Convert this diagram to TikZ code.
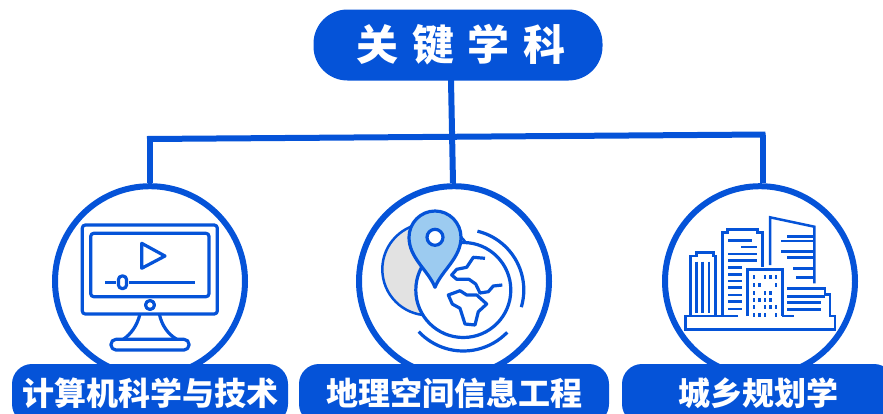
\documentclass[tikz,border=0pt]{standalone}
\usepackage{fontspec}
\usepackage{xcolor}
\usepackage{tikz}
\usetikzlibrary{positioning}
\newfontfamily\cjk{Noto Sans CJK SC}
\definecolor{keyblue}{HTML}{0553D8}
\definecolor{pinblue}{HTML}{9CCBF0}
\definecolor{shadegray}{HTML}{E2E2E2}

\begin{document}
\begin{tikzpicture}[
    x=1pt,
    y=-1pt,
    auto,
    font=\cjk\bfseries,
    title/.style={
		rectangle,
		rounded corners=34pt,
		fill=keyblue,
		text=white,
		inner sep=0pt,
		minimum width=289pt,
		minimum height=71pt,
		font=\cjk\bfseries\fontsize{42}{42}\selectfont
	},
	disc/.style={
		circle,
		draw=keyblue,
		line width=6pt,
		fill=white,
		inner sep=0pt,
		minimum size=190pt
	},
	tag/.style={
		rectangle,
		rounded corners=20pt,
		fill=keyblue,
		text=white,
		inner sep=0pt,
		minimum height=60pt,
		text height=27pt,
		text depth=5pt,
		font=\cjk\bfseries\fontsize{32}{32}\selectfont
	},
	wire/.style={
		draw=keyblue,
		line width=6pt
	},
	icon/.style={
		draw=keyblue,
		line width=3.2pt,
		line join=round
	},
	fine/.style={
		draw=keyblue,
		line width=2.5pt
	}
  ]
  \useasboundingbox (0,0) rectangle (883,413);

    % circles first, the tags lie over them
  \node [title] (key) at (458,45) {\hspace{6pt}\addfontfeature{LetterSpace=32}关键学科};
  \node [disc, below=140.5pt of key.south, xshift=-308pt, anchor=center, yshift=-60pt] (disc1) {};
  \node [disc, right=304pt of disc1.center, anchor=center] (disc2) {};
  \node [disc, right=306pt of disc2.center, anchor=center] (disc3) {};

  \node [tag, minimum width=276pt] (tag1) at (disc1 |- 0,394) {计算机科学与技术};
  \node [tag, minimum width=310pt] (tag2) at (disc2 |- 0,394) {地理空间信息工程};
  \node [tag, minimum width=272pt] (tag3) at (758,394) {城乡规划学};

    % connectors
  \coordinate (busl) at (150,139);
  \coordinate (busr) at (762.5,134.5);
  \coordinate (trunkt) at (451,80);
  \coordinate (trunkb) at (453,183);
  \draw [wire] (trunkt) -- (trunkb);
  \draw [wire] ([xshift=-3pt]busl) -- ([xshift=3pt]busr);
  \draw [wire] (busl) -- (busl |- disc1.north);
  \draw [wire] (busr) -- (busr |- disc3.north);

    % monitor
  \draw [icon, rounded corners=3pt] (82.3,225) rectangle (217.3,314);
  \draw [icon, rounded corners=3pt] (90.7,233.3) rectangle (209,296.7);
  \draw [icon] (141.7,243.3) -- (165,256) -- (141.7,268.3) -- cycle;
  \draw [icon] (105,282.3) -- (116,282.3);
  \draw [icon] (129.3,282.3) -- (195,282.3);
  \draw [icon, rounded corners=3.5pt] (118.5,276) rectangle (126.5,288.5);
  \draw [icon] (150,305) circle (4.5);
  \draw [icon] (140,314) .. controls (137,326) and (131,334) .. (123.3,339.3);
  \draw [icon] (159.3,314) .. controls (162,326) and (168,334) .. (176.7,339.3);
  \draw [icon, rounded corners=5pt] (111,339.3) rectangle (189,350);

    % globe and pin
  \coordinate (shade) at (428.3,269.3);
  \coordinate (globe) at (463.3,290);
  \draw [fine, fill=shadegray] (shade) circle (46);
  \draw [icon, fill=white] (globe) circle (47.5);
  \draw [icon] (globe) ++(76.5:60.5pt) arc [start angle=76.5, end angle=-16.5, radius=60.5pt];
  \draw [icon] (globe) ++(223:61pt) arc [start angle=223, end angle=316, radius=61pt];
  \draw [icon] (485,258.3) -- (473.3,257.3) -- (466.7,267.3) -- (456.7,269.3) -- (451.7,275)
    -- (456.7,279.3) -- (469,279.3) -- (475.7,284) -- (480,293) -- (488.3,291.7)
    -- (493.3,286) -- (502.3,285);
  \draw [icon] (448.3,295) -- (460,290.7) -- (466.7,295) -- (476.7,295) -- (486.7,304)
    -- (478.3,311.7) -- (475,325) -- (465,324) -- (460,308.3) -- (452.3,304) -- cycle;
  \draw [icon, fill=pinblue] (435,287.3) .. controls (428,270) and (409,258) .. (409,237.3)
    .. controls (409,222.9) and (420.6,211) .. (435,211)
    .. controls (449.4,211) and (461,222.9) .. (461,237.3)
    .. controls (461,258) and (442,270) .. (435,287.3) -- cycle;
  \draw [icon, fill=white] (435,237.3) circle (8);

    % buildings
  \draw [fine] (738,316) -- (685.7,316) -- (685.7,329.3) -- (835,329.3) -- (835,316) -- (830,316) -- (830,294.3)
    -- (825,294.3) -- (825,288.3) -- (787,288.3);
  \draw [fine] (782,316) -- (794,316);
  \draw [fine] (685.7,316) -- (690.7,316) -- (690.7,256) -- (696.7,256) -- (696.7,252.7) -- (713.3,252.7)
    -- (713.3,256) -- (715.7,256) -- (715.7,316) -- (722.7,316) -- (722.7,232.7) -- (727.7,232.7)
    -- (727.7,229.3) -- (757.3,229.3) -- (757.3,232.7) -- (762.7,232.7) -- (762.7,267.3);
  \draw [fine] (770,265) -- (770,217.3) -- (814.3,226.7) -- (814.3,283.3);
  \draw [fine] (747.7,316) -- (747.7,269.3) -- (782.7,269.3) -- (782.7,316);
  \foreach \xpos in {696.7,702.7,709}
    \draw [fine] (\xpos,261.7) -- (\xpos,313);
  \foreach \ypos/\xa/\xb in {240.7/728/752, 247/741/757, 254/728/757, 260.7/728/757, 267.7/728/742,
      274.3/728/742, 281/728/742, 287.7/728/742, 295/728/742, 301.7/728/742, 309/728/742}
    \draw [fine] (\xa,\ypos) -- (\xb,\ypos);
  \foreach \ypos/\xa/\xb in {236.7/787/813, 241/781/813, 251.7/781/813, 257.3/787/813, 268.3/793/813, 277.7/796/813}
    \draw [fine] (\xa,\ypos) -- (\xb,\ypos);
  \foreach \ypos/\xb in {296.7/825, 302.7/821, 309.3/821}
    \draw [fine] (787,\ypos) -- (\xb,\ypos);
  \foreach \col/\rows in {754/{277.3,285,292.7,300,307.3,315},
      759.3/{285,300,315},
      765/{277.3,292.7,300,307.3,315},
      770.7/{277.3,292.7,300,307.3},
      776/{277.3,285,307.3,315}}
    \foreach \row in \rows
      \fill [keyblue] (\col-1.3,\row-2) rectangle (\col+1.3,\row+2);
\end{tikzpicture}
\end{document}
